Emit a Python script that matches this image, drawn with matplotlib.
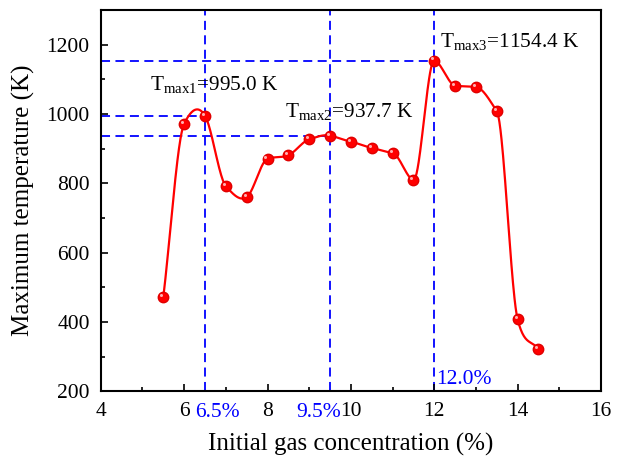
import matplotlib
matplotlib.use('Agg')
import matplotlib.pyplot as plt
import matplotlib.transforms as mtransforms
import numpy as np

plt.rcParams['font.family'] = ['Liberation Serif', 'DejaVu Serif']
plt.rcParams['mathtext.fontset'] = 'custom'
plt.rcParams['mathtext.rm'] = 'Liberation Serif'
plt.rcParams['mathtext.it'] = 'Liberation Serif'

conc = [5.5, 6.0, 6.5, 7.0, 7.5, 8.0, 8.5, 9.0, 9.5, 10.0,
        10.5, 11.0, 11.5, 12.0, 12.5, 13.0, 13.5, 14.0, 14.5]
tmax = [472, 972, 995.0, 792, 760, 871, 881, 927, 937.7, 920,
        902, 887, 809, 1154.4, 1082, 1078, 1008, 407, 321]

peak_x = [6.5, 9.5, 12.0]
peak_y = [995.0, 937.7, 1154.4]
peak_tick_labels = ['6.5%', '9.5%', '12.0%']


def smooth(x, y, n=40, k=0.7):
    # Akima-type tangents (damped), secant slopes at the ends
    x = np.asarray(x, float)
    y = np.asarray(y, float)
    h = np.diff(x)
    m = np.diff(y) / h
    mm = np.concatenate([[3 * m[0] - 2 * m[1], 2 * m[0] - m[1]], m,
                         [2 * m[-1] - m[-2], 3 * m[-1] - 2 * m[-2]]])
    t = np.zeros(len(x))
    for i in range(len(x)):
        w1 = abs(mm[i + 3] - mm[i + 2])
        w2 = abs(mm[i + 1] - mm[i])
        if w1 + w2 == 0:
            t[i] = 0.5 * (mm[i + 1] + mm[i + 2])
        else:
            t[i] = (w1 * mm[i + 1] + w2 * mm[i + 2]) / (w1 + w2)
    t *= k
    t[0] = m[0]
    t[-1] = m[-1]
    xs, ys = [], []
    for i in range(len(x) - 1):
        s = np.linspace(0, 1, n, endpoint=False)
        h00 = 2 * s**3 - 3 * s**2 + 1
        h10 = s**3 - 2 * s**2 + s
        h01 = -2 * s**3 + 3 * s**2
        h11 = s**3 - s**2
        xs.append(x[i] + s * h[i])
        ys.append(h00 * y[i] + h10 * h[i] * t[i] + h01 * y[i + 1] + h11 * h[i] * t[i + 1])
    xs.append([x[-1]])
    ys.append([y[-1]])
    return np.concatenate(xs), np.concatenate(ys)


fig = plt.figure(figsize=(6.3, 4.57), dpi=100)
ax = fig.add_axes([0.160, 0.144, 0.794, 0.834])

# guide lines
for px, py in zip(peak_x, peak_y):
    ax.plot([4, px], [py, py], color='blue', ls=(0, (5, 3)), lw=1.3, zorder=1)
    ax.plot([px, px], [200, 1300], color='blue', ls=(0, (5, 3)), lw=1.3, zorder=1)

sx, sy = smooth(conc, tmax)
ax.plot(sx, sy, color='red', lw=1.6, zorder=2)
ax.plot(conc, tmax, 'o', color='red', ms=7.5, mec='#e00000', zorder=3)
hl = ax.transData + mtransforms.ScaledTranslation(-1.5 / 72, 1.5 / 72, fig.dpi_scale_trans)
ax.plot(conc, tmax, 'o', color='#ffb0b0', ms=2.2, mew=0, transform=hl, zorder=4)

ax.text(5.18, 1070, r'T$_{\rm max1}$=995.0 K', fontsize=15.3)
ax.text(8.42, 992, r'T$_{\rm max2}$=937.7 K', fontsize=15.3)
ax.text(12.14, 1194, r'T$_{\rm max3}$=1154.4 K', fontsize=15.3)

ax.text(6.79, 166, peak_tick_labels[0], color='blue', fontsize=15.5, ha='center', va='top')
ax.text(9.22, 166, peak_tick_labels[1], color='blue', fontsize=15.5, ha='center', va='top')
ax.text(12.04, 206, peak_tick_labels[2], color='blue', fontsize=15.5, ha='left', va='bottom')

ax.set_xlim(4, 16)
ax.set_ylim(200, 1300)
ax.set_xticks(np.arange(4, 17, 2))
ax.set_xticks(np.arange(5, 16, 2), minor=True)
ax.set_yticks(np.arange(200, 1201, 200))
ax.set_yticks(np.arange(300, 1300, 200), minor=True)
ax.tick_params(which='both', direction='in', labelsize=15.5, width=1.2, pad=8)
ax.tick_params(which='major', length=5)
ax.tick_params(which='minor', length=3)
for s in ax.spines.values():
    s.set_linewidth(1.5)

ax.set_xlabel('Initial gas concentration (%)', fontsize=18, labelpad=8)
ax.set_ylabel('Maximum temperature (K)', fontsize=18, labelpad=8)

fig.savefig('out.png', dpi=100)
